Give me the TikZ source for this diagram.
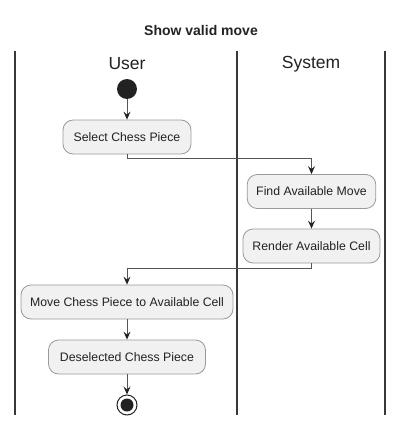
\documentclass[tikz,border=0pt]{standalone}
\usepackage{fontspec}
\setmainfont{Liberation Sans}
\usetikzlibrary{arrows.meta}
\definecolor{boxfill}{HTML}{F1F1F1}
\definecolor{boxline}{HTML}{9A9A9A}
\definecolor{dark}{HTML}{222222}
\definecolor{conn}{HTML}{555555}
\begin{document}
\begin{tikzpicture}[x=1pt,y=-1pt,
  act/.style={draw=boxline,fill=boxfill,rounded corners=10pt,line width=0.8pt,
    minimum height=34pt,inner xsep=9pt,font=\fontsize{12.3}{14}\selectfont,text=dark},
  lane/.style={draw=dark!90,line width=1.6pt},
  flow/.style={draw=conn,line width=1pt,-{Stealth[length=8pt,width=7pt,inset=3pt,color=dark]}},
  lanetitle/.style={font=\fontsize{17.5}{20}\selectfont,text=dark}]
\useasboundingbox (0,0) rectangle (404,428);
\node[font=\bfseries\fontsize{14}{16}\selectfont,text=dark] (title) at (201,30) {Show valid move};
\coordinate (l1t) at (15,51); \coordinate (l1b) at (15,415);
\coordinate (l2t) at (237,51); \coordinate (l2b) at (237,415);
\coordinate (l3t) at (385,51); \coordinate (l3b) at (385,415);
\draw[lane] (l1t) -- (l1b);
\draw[lane] (l2t) -- (l2b);
\draw[lane] (l3t) -- (l3b);
\node[lanetitle] (user) at (127,64) {User};
\node[lanetitle] (system) at (311,64) {System};
\node[circle,fill=dark,minimum size=20pt,inner sep=0pt] (start) at (127,89) {};
\node[act,minimum width=128pt] (select) at (127,137) {Select Chess Piece};
\node[act,minimum width=127pt] (find) at (311.5,191.5) {Find Available Move};
\node[act,minimum width=137pt] (render) at (311.5,246) {Render Available Cell};
\node[act,minimum width=212pt] (move) at (127,302) {Move Chess Piece to Available Cell};
\node[act,minimum width=157pt] (desel) at (127,357) {Deselected Chess Piece};
\node[circle,draw=dark,line width=1pt,fill=white,minimum size=20pt,inner sep=0pt] (end) at (127,405) {};
\node[circle,fill=dark,minimum size=13pt,inner sep=0pt] (endin) at (127,405) {};
\draw[flow] (start) -- (select);
\draw[flow] (select.south) -- ++(0,4.5) -| (find.north);
\draw[flow] (find) -- (render);
\draw[flow] (render.south) -- ++(0,5.5) -| (move.north);
\draw[flow] (move) -- (desel);
\draw[flow] (desel) -- (end);
\end{tikzpicture}
\end{document}
